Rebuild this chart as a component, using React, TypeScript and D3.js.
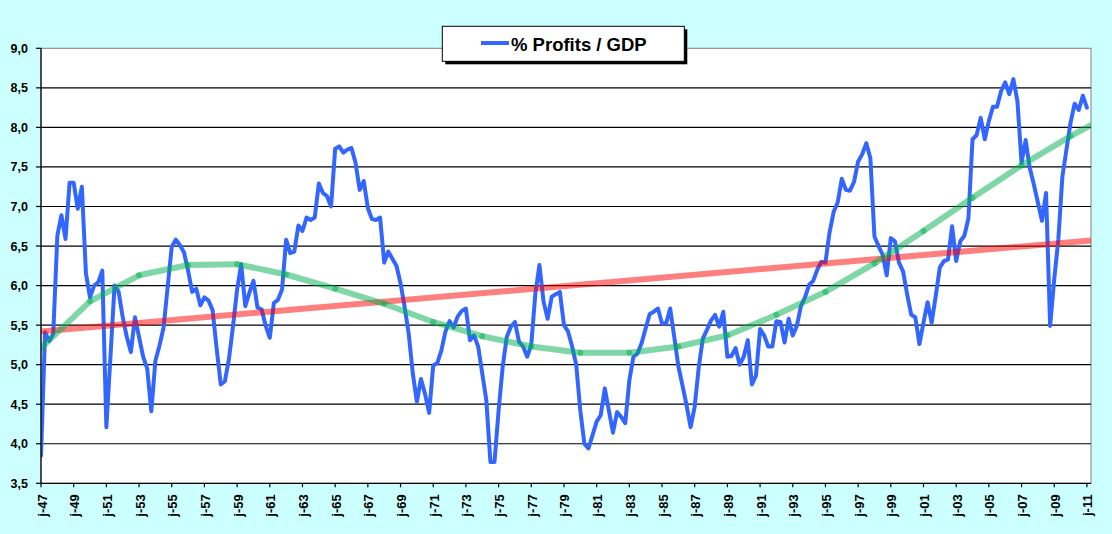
import * as d3 from 'd3';

// Corporate profits as % of GDP, quarterly, 1947 Q1 .. 2011 Q1
const firstYear = 1947;
const profitsGdp = [
  3.85, 5.41, 5.30, 5.39, 6.63, 6.89, 6.59, 7.30,
  7.30, 6.97, 7.25, 6.15, 5.85, 6.00, 6.04, 6.19,
  4.21, 5.10, 6.00, 5.92, 5.60, 5.35, 5.16, 5.60,
  5.35, 5.10, 4.95, 4.41, 5.05, 5.24, 5.47, 5.98,
  6.49, 6.58, 6.51, 6.42, 6.19, 5.92, 5.96, 5.75,
  5.85, 5.81, 5.69, 5.20, 4.75, 4.79, 5.07, 5.49,
  5.95, 6.27, 5.74, 5.91, 6.06, 5.72, 5.70, 5.49,
  5.34, 5.78, 5.82, 5.95, 6.58, 6.41, 6.43, 6.76,
  6.69, 6.86, 6.83, 6.86, 7.29, 7.17, 7.13, 7.00,
  7.73, 7.76, 7.68, 7.72, 7.74, 7.55, 7.21, 7.32,
  6.98, 6.84, 6.83, 6.86, 6.29, 6.43, 6.34, 6.25,
  6.03, 5.73, 5.39, 4.89, 4.53, 4.82, 4.63, 4.39,
  4.99, 5.02, 5.18, 5.42, 5.55, 5.47, 5.61, 5.68,
  5.71, 5.31, 5.37, 5.23, 4.89, 4.55, 3.77, 3.77,
  4.42, 4.97, 5.35, 5.48, 5.54, 5.29, 5.23, 5.10,
  5.25, 5.90, 6.26, 5.80, 5.58, 5.86, 5.89, 5.92,
  5.50, 5.42, 5.23, 5.00, 4.42, 4.00, 3.94, 4.11,
  4.28, 4.36, 4.70, 4.42, 4.14, 4.40, 4.34, 4.26,
  4.80, 5.10, 5.14, 5.27, 5.46, 5.64, 5.67, 5.71,
  5.52, 5.52, 5.71, 5.35, 4.98, 4.74, 4.49, 4.21,
  4.47, 4.97, 5.33, 5.44, 5.56, 5.63, 5.48, 5.67,
  5.10, 5.11, 5.21, 5.00, 5.10, 5.31, 4.75, 4.86,
  5.45, 5.37, 5.23, 5.23, 5.55, 5.54, 5.28, 5.58,
  5.37, 5.49, 5.74, 5.85, 6.01, 6.06, 6.20, 6.30,
  6.29, 6.67, 6.93, 7.05, 7.35, 7.21, 7.20, 7.31,
  7.57, 7.66, 7.80, 7.61, 6.62, 6.50, 6.39, 6.13,
  6.60, 6.56, 6.29, 6.18, 5.89, 5.63, 5.60, 5.26,
  5.53, 5.79, 5.53, 5.87, 6.23, 6.31, 6.33, 6.75,
  6.31, 6.56, 6.63, 6.85, 7.85, 7.90, 8.12, 7.85,
  8.08, 8.26, 8.26, 8.46, 8.57, 8.42, 8.61, 8.33,
  7.55, 7.84, 7.49, 7.28, 7.05, 6.82, 7.17, 5.49,
  6.08, 6.58, 7.38, 7.72, 8.06, 8.30, 8.22, 8.40,
  8.25,
];

// linear trend (quarter index -> value)
const linearTrendIdx = [0, 257];
const linearTrendVal = [5.42, 6.57];

// polynomial trend, sampled every 12 quarters
const polyTrendIdx = [0, 12, 24, 36, 48, 60, 72, 84, 96, 108, 120, 132, 144, 156, 168, 180, 192, 204, 216, 228, 240, 252, 257];
const polyTrendVal = [5.21, 5.80, 6.13, 6.26, 6.27, 6.14, 5.96, 5.77, 5.54, 5.36, 5.23, 5.15, 5.15, 5.23, 5.37, 5.63, 5.92, 6.28, 6.69, 7.11, 7.52, 7.89, 8.03];

const yTicks = [3.5, 4, 4.5, 5, 5.5, 6, 6.5, 7, 7.5, 8, 8.5, 9];
const xTickIdx = d3.range(0, 257, 8);

const W = 1112;
const H = 534;
const plot = { left: 41, top: 48.3, right: 1091, bottom: 483.3 };
const font = "'Liberation Sans', Arial, sans-serif";

export default function App() {
  const x = d3.scaleLinear().domain([0, 257]).range([plot.left, plot.right]);
  const y = d3.scaleLinear().domain([3.5, 9]).range([plot.bottom, plot.top]);

  const line = d3.line<number>()
    .x((_, i) => x(i))
    .y(d => y(d));

  const polyPts = polyTrendIdx.map((idx, k) => [x(idx), y(polyTrendVal[k])]);
  const fmt = (v: number) => v.toFixed(1).replace('.', ',');
  const yearLabel = (idx: number) => {
    const yr = firstYear + idx / 4;
    return 'j-' + String(yr % 100).padStart(2, '0');
  };

  return (
    <div style={{ position: 'absolute', left: 0, top: 0 }}>
      <svg width={W} height={H} style={{ display: 'block' }}>
        <defs>
          <clipPath id="plotClip">
            <rect x={plot.left} y={plot.top} width={plot.right - plot.left} height={plot.bottom - plot.top} />
          </clipPath>
        </defs>
        <rect x={0} y={0} width={W} height={H} fill="#ccffff" />
        <rect x={plot.left} y={plot.top} width={plot.right - plot.left} height={plot.bottom - plot.top}
          fill="#ffffff" stroke="#808080" strokeWidth={1} />

        {/* gridlines */}
        {yTicks.filter(t => t > 3.5 && t < 9).map(t => (
          <line key={t} x1={plot.left} x2={plot.right} y1={y(t)} y2={y(t)} stroke="#000" strokeWidth={1.2} />
        ))}

        <g clipPath="url(#plotClip)">
          <path d={line(profitsGdp) ?? ''} fill="none" stroke="#3366ff" strokeWidth={4}
            strokeLinejoin="round" strokeLinecap="round" />
          <line x1={x(linearTrendIdx[0])} y1={y(linearTrendVal[0])}
            x2={x(linearTrendIdx[1])} y2={y(linearTrendVal[1])}
            stroke="#ff0000" strokeOpacity={0.5} strokeWidth={6} />
          {polyPts.slice(1).map((p, k) => (
            <line key={k} x1={polyPts[k][0]} y1={polyPts[k][1]} x2={p[0]} y2={p[1]}
              stroke="#00b050" strokeOpacity={0.5} strokeWidth={6} strokeLinecap="round" />
          ))}
        </g>

        {/* axes */}
        <line x1={plot.left} x2={plot.left} y1={plot.top} y2={plot.bottom} stroke="#000" strokeWidth={1.2} />
        <line x1={plot.left} x2={plot.right} y1={plot.bottom} y2={plot.bottom} stroke="#000" strokeWidth={1.2} />

        {yTicks.map(t => (
          <g key={t}>
            <line x1={plot.left - 5} x2={plot.left} y1={y(t)} y2={y(t)} stroke="#000" strokeWidth={1.2} />
            <text x={28} y={y(t)} dy="0.36em" textAnchor="end"
              fontFamily={font} fontWeight="bold" fontSize={12.5}>{fmt(t)}</text>
          </g>
        ))}

        {xTickIdx.map(idx => (
          <g key={idx}>
            <line x1={x(idx)} x2={x(idx)} y1={plot.bottom} y2={plot.bottom + 4} stroke="#000" strokeWidth={1.2} />
            <text transform={`translate(${x(idx) + 5.5},${plot.bottom + 11}) rotate(-90)`} textAnchor="end"
              fontFamily={font} fontWeight="bold" fontSize={13}>{yearLabel(idx)}</text>
          </g>
        ))}

        {/* legend */}
        <rect x={445.3} y={29.3} width={242} height={35} fill="#000" />
        <rect x={442.3} y={26.3} width={242} height={35} fill="#fff" stroke="#000" strokeWidth={1} />
        <line x1={481} x2={509} y1={43} y2={43} stroke="#3366ff" strokeWidth={4} />
        <text x={511} y={50.5} fontFamily={font} fontWeight="bold" fontSize={18.5}>% Profits / GDP</text>
      </svg>
    </div>
  );
}
